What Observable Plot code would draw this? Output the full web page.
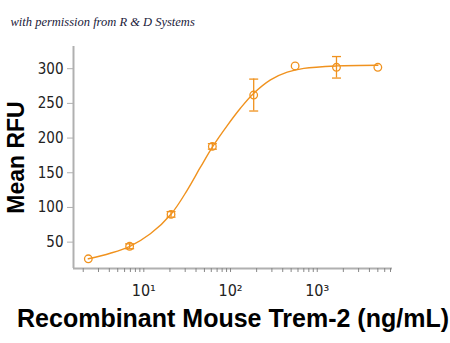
<!DOCTYPE html>
<html>
<head>
<meta charset="utf-8">
<script src="https://cdn.jsdelivr.net/npm/d3@7"></script>
<script src="https://cdn.jsdelivr.net/npm/@observablehq/plot@0.6"></script>
<style>
  html, body { margin: 0; padding: 0; background: #fff; }
  #chart svg { display: block; }
</style>
</head>
<body>
<div id="chart"></div>
<script>
// Data points (3-fold dilution series)
const concentrations = [2.29, 6.86, 20.6, 61.7, 185, 556, 1667, 5000];
const meanRFU = [26, 44, 90, 188, 262, 304, 302, 302];
const errorRFU = [0, 3.5, 4, 4, 23, 0, 15.5, 0];

// Fitted curve
const fitX = [2.29, 4.1, 6.9, 11.9, 20.8, 31.7, 45, 62.5, 91.6, 130, 183, 289, 451, 700, 1656, 5000];
const fitY = [26, 34, 44, 62, 91, 125, 158, 188, 218, 243, 264, 284, 295, 300.5, 304, 305];

// Axes
const yTicks = [50, 100, 150, 200, 250, 300];
const xLabelTicks = [10, 100, 1000];
const xLabels = ["10¹", "10²", "10³"];
const xMinorTicks = [2,3,4,5,6,7,8,9,10,20,30,40,50,60,70,80,90,100,200,300,400,500,600,700,800,900,1000,2000,3000,4000,5000,6000,7000];

const caption = "with permission from R & D Systems";
const yTitle = "Mean RFU";
const xTitle = "Recombinant Mouse Trem-2 (ng/mL)";

const orange = "#f0921e";
const axisGray = "#b0b0b0";
const xDomain = [1.545, 7380];
const yDomain = [12, 332];

const points = concentrations.map((c, i) => ({c, v: meanRFU[i], e: errorRFU[i]}));
const errPts = points.filter(d => d.e > 0);
const fit = fitX.map((x, i) => ({x, y: fitY[i]}));
const xLabelData = xLabelTicks.map((t, i) => ({t, label: xLabels[i]}));

const capSymbol = {
  draw(context, size) {
    const w = Math.sqrt(size / Math.PI);
    context.moveTo(-w, 0);
    context.lineTo(w, 0);
  }
};

const narrow = "'Liberation Sans Narrow', 'DejaVu Sans Condensed', sans-serif";
const bold = "'Liberation Sans', Arial, sans-serif";

const chart = Plot.plot({
  width: 450,
  height: 343,
  marginLeft: 73,
  marginRight: 58,
  marginTop: 46,
  marginBottom: 75,
  style: {background: "#fff", overflow: "visible"},
  x: {type: "log", domain: xDomain},
  y: {domain: yDomain},
  marks: [
    // axis lines
    Plot.ruleX([xDomain[0]], {stroke: axisGray, strokeWidth: 2}),
    Plot.ruleY([yDomain[0]], {stroke: axisGray, strokeWidth: 2}),
    // y axis
    Plot.axisY(yTicks, {
      tickSize: 6, tickPadding: 4, stroke: axisGray, label: null,
      fontSize: 15, fontFamily: narrow, fill: "#222"
    }),
    // x minor ticks (no labels)
    Plot.axisX(xMinorTicks, {
      tickSize: 4, stroke: "#888", tickFormat: () => "", label: null
    }),
    // x labels
    Plot.text(xLabelData, {
      x: "t", frameAnchor: "bottom", dy: 22, text: "label",
      fontSize: 16, fontFamily: narrow, fill: "#222", lineAnchor: "middle"
    }),
    // error bars
    Plot.ruleX(errPts, {x: "c", y1: d => d.v - d.e, y2: d => d.v + d.e, stroke: orange, strokeWidth: 1.3}),
    Plot.dot(errPts, {x: "c", y: d => d.v - d.e, symbol: capSymbol, r: 4.5, stroke: orange, strokeWidth: 1.3, fill: "none"}),
    Plot.dot(errPts, {x: "c", y: d => d.v + d.e, symbol: capSymbol, r: 4.5, stroke: orange, strokeWidth: 1.3, fill: "none"}),
    // fitted curve
    Plot.line(fit, {x: "x", y: "y", curve: "catmull-rom", stroke: orange, strokeWidth: 1.4}),
    // data points
    Plot.dot(points, {x: "c", y: "v", r: 3.8, stroke: orange, strokeWidth: 1.3, fill: "none"}),
    // texts
    Plot.text([caption], {
      frameAnchor: "top-left", dx: -63, dy: -29, textAnchor: "start",
      fontFamily: "'Liberation Serif', 'DejaVu Serif', serif", fontStyle: "italic",
      fontSize: 12.5, fill: "#1a1a3a"
    }),
    Plot.text([yTitle], {
      frameAnchor: "left", dx: -56.5, dy: 0, rotate: -90, textAnchor: "middle",
      fontFamily: bold, fontWeight: "bold", fontSize: 23, fill: "#000"
    }),
    Plot.text([xTitle], {
      frameAnchor: "bottom", dx: 0, dy: 58, textAnchor: "middle",
      fontFamily: bold, fontWeight: "bold", fontSize: 25, fill: "#000"
    })
  ]
});

document.getElementById("chart").appendChild(chart);
</script>
</body>
</html>
